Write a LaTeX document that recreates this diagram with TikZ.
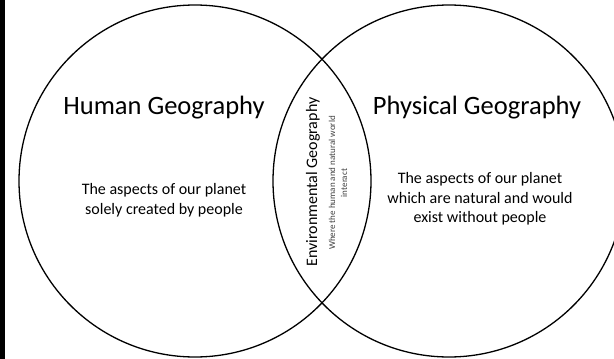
\documentclass[tikz,border=0pt]{standalone}
\usepackage{fontspec}
\setmainfont{Carlito}
\usetikzlibrary{positioning}

\begin{document}
\begin{tikzpicture}[
  x=1pt, y=-1pt,
  every node/.style={anchor=center, inner sep=0pt},
  ring/.style={circle, draw=black, line width=1.3pt, minimum size=352pt},
  title/.style={font=\fontsize{26.5}{30}\selectfont},
  body/.style={font=\fontsize{16}{19.5}\selectfont, align=center},
  lens/.style={font=\fontsize{16}{19}\selectfont, rotate=90},
  lensnote/.style={font=\fontsize{9}{12}\selectfont, align=center, rotate=90, text=black!75}
]
  \useasboundingbox (0,0) rectangle (614,359);
  % --- Rand links ---
  \fill[black] (0,0) rectangle (5,359);

  % --- Kreise ---
  \node (human) [ring] at (195,181) {};
  \node (phys)  [ring] at (449,181) {};

  % --- Texte ---
  \node (humanT) [title] at (164,108) {Human Geography};
  \node (physT)  [title] at (477,108) {Physical Geography};
  \node (humanB) [body]  at (164,200) {The aspects of our planet\\solely created by people};
  \node (physB)  [body]  at (480,199) {The aspects of our planet\\which are natural and would\\exist without people};

  \node (envT) [lens]     at (313,182) {Environmental Geography};
  \node (envB) [lensnote] at (338,183) {Where the human and natural world\\interact};
\end{tikzpicture}
\end{document}
